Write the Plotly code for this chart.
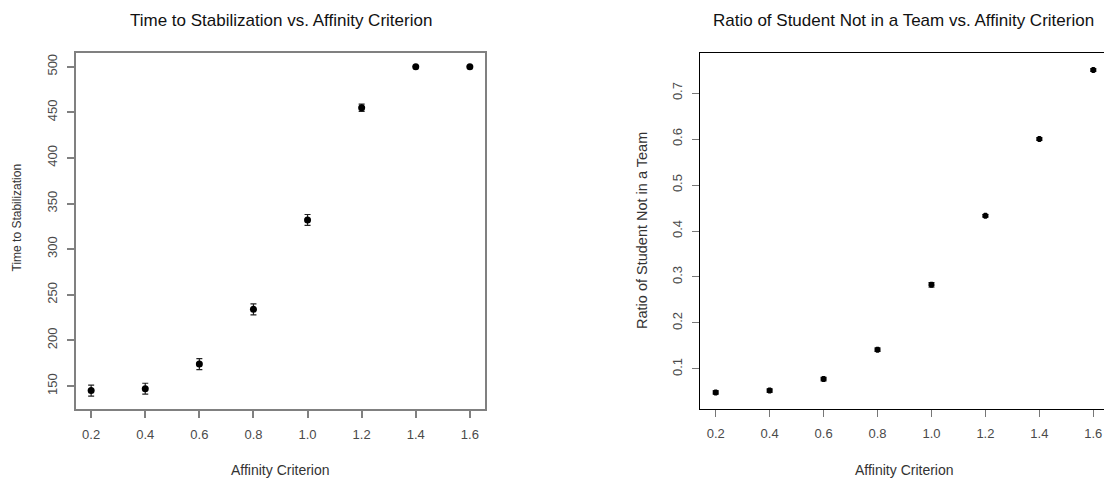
import plotly.graph_objects as go

W, H = 1104, 479

affinity = [0.2, 0.4, 0.6, 0.8, 1.0, 1.2, 1.4, 1.6]
time_stab = [145, 147, 174, 234, 332, 455, 500, 500]
time_err = [6, 6, 6, 6, 6, 4, 0, 0]
ratio_not_team = [0.049, 0.053, 0.078, 0.142, 0.283, 0.433, 0.600, 0.750]
ratio_err = [0.004, 0.004, 0.004, 0.004, 0.005, 0.003, 0.003, 0.003]

x_ticks = [0.2, 0.4, 0.6, 0.8, 1.0, 1.2, 1.4, 1.6]
x_ticklabels = ["0.2", "0.4", "0.6", "0.8", "1.0", "1.2", "1.4", "1.6"]
y1_ticks = [150, 200, 250, 300, 350, 400, 450, 500]
y2_ticks = [0.1, 0.2, 0.3, 0.4, 0.5, 0.6, 0.7]

FONT = "Liberation Sans, Arial, sans-serif"

def px(x):
    return x / W

def py(y):
    return 1 - y / H

fig = go.Figure()
fig.add_trace(go.Scatter(
    x=affinity, y=time_stab, mode="markers", xaxis="x", yaxis="y",
    marker=dict(color="black", size=7, symbol="circle"),
    error_y=dict(type="data", array=time_err, color="#222", thickness=1.2, width=3),
    showlegend=False))
fig.add_trace(go.Scatter(
    x=affinity, y=ratio_not_team, mode="markers", xaxis="x2", yaxis="y2",
    marker=dict(color="black", size=6.5, symbol="octagon"),
    error_y=dict(type="data", array=ratio_err, color="#111", thickness=1, width=3),
    showlegend=False))

tickfont = dict(family=FONT, size=13, color="#4a4a4a")

common_x = dict(tickmode="array", tickvals=x_ticks, ticktext=x_ticklabels,
                ticks="outside", ticklen=7, showgrid=False, zeroline=False,
                tickfont=tickfont, ticklabelstandoff=5, showline=True)
common_y = dict(ticks="outside", ticklen=7, showgrid=False, zeroline=False,
                tickfont=tickfont, tickangle=-90, ticklabelstandoff=5, showline=True,
                tickmode="array")

fig.update_layout(
    width=W, height=H, margin=dict(l=0, r=0, t=0, b=0),
    paper_bgcolor="white", plot_bgcolor="white",
    xaxis=dict(domain=[px(76), px(485)], range=[0.144, 1.656], anchor="y",
               linecolor="#808080", linewidth=2, mirror=True, tickcolor="#808080", tickwidth=1.5,
               **common_x),
    yaxis=dict(domain=[py(409), py(53)], range=[124.8, 515], anchor="x",
               tickvals=y1_ticks, ticktext=[str(v) for v in y1_ticks],
               linecolor="#808080", linewidth=2, mirror=True, tickcolor="#808080", tickwidth=1.5,
               **common_y),
    xaxis2=dict(domain=[px(700), 1.0], range=[0.1418, 1.6397], anchor="y2",
                linecolor="black", linewidth=1, mirror=True, tickcolor="#777", tickwidth=1,
                **common_x),
    yaxis2=dict(domain=[py(409), py(53)], range=[0.013, 0.787], anchor="x2",
                tickvals=y2_ticks, ticktext=[f"{v:.1f}" for v in y2_ticks],
                linecolor="black", linewidth=1, mirror=False, tickcolor="#777", tickwidth=1,
                **common_y),
    annotations=[
        dict(text="Time to Stabilization vs. Affinity Criterion", x=px(280.5), y=py(20),
             xref="paper", yref="paper", showarrow=False, xanchor="center", yanchor="middle",
             font=dict(family=FONT, size=17, color="#111")),
        dict(text="Ratio of Student Not in a Team vs. Affinity Criterion", x=px(903.5), y=py(20),
             xref="paper", yref="paper", showarrow=False, xanchor="center", yanchor="middle",
             font=dict(family=FONT, size=17, color="#111")),
        dict(text="Affinity Criterion", x=px(280.5), y=py(470),
             xref="paper", yref="paper", showarrow=False, xanchor="center", yanchor="middle",
             font=dict(family=FONT, size=14, color="#333")),
        dict(text="Affinity Criterion", x=px(904), y=py(470),
             xref="paper", yref="paper", showarrow=False, xanchor="center", yanchor="middle",
             font=dict(family=FONT, size=14, color="#333")),
        dict(text="Time to Stabilization", x=px(17), y=py(217.5), textangle=-90,
             xref="paper", yref="paper", showarrow=False, xanchor="center", yanchor="middle",
             font=dict(family=FONT, size=12, color="#333")),
        dict(text="Ratio of Student Not in a Team", x=px(642), y=py(231), textangle=-90,
             xref="paper", yref="paper", showarrow=False, xanchor="center", yanchor="middle",
             font=dict(family=FONT, size=14.5, color="#333")),
    ],
)

fig.write_html("out.html")
